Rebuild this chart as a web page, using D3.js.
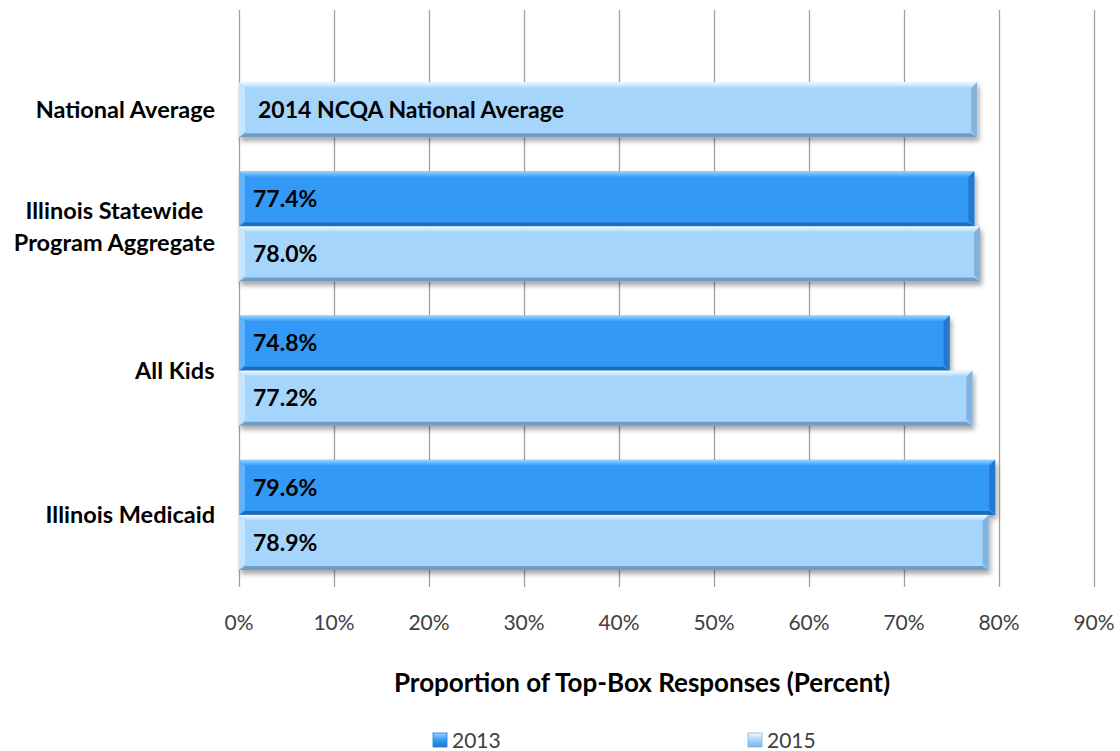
<!DOCTYPE html>
<html>
<head>
<meta charset="utf-8">
<script src="https://cdn.jsdelivr.net/npm/d3@7"></script>
<style>
  html, body { margin: 0; padding: 0; background: #fff; }
  svg { display: block; font-family: Lato, "Open Sans", sans-serif; }
</style>
</head>
<body>
<svg id="chart" width="1120" height="751"></svg>
<script>
// Top-box response proportions by program, 2013 vs 2015
const categories = [
  "National Average",
  "Illinois Statewide Program Aggregate",
  "All Kids",
  "Illinois Medicaid"
];
const categoryLines = [
  ["National Average"],
  ["Illinois Statewide", "Program Aggregate"],
  ["All Kids"],
  ["Illinois Medicaid"]
];
const seriesNames = ["2013", "2015"];
const values2013 = [null, 77.4, 74.8, 79.6];
const values2015 = [77.7, 78.0, 77.2, 78.9];
const barLabels2015 = ["2014 NCQA National Average", "78.0%", "77.2%", "78.9%"];
const xTicks = [0, 10, 20, 30, 40, 50, 60, 70, 80, 90];

const svg = d3.select("#chart");
const plotLeft = 239, plotRight = 1094, plotTop = 10, plotBottom = 587;

const x = d3.scaleLinear().domain([0, 90]).range([plotLeft, plotRight]);
const y0 = d3.scaleBand().domain(categories).range([plotTop, plotBottom]);
const y1 = d3.scaleBand().domain(seriesNames).range([0, y0.bandwidth()])
  .paddingInner(0).paddingOuter(0.311);

const palette = {
  "2013": { base: "#3399f7", light: "#9ad2ff", lighter: "#64b4fb", dark: "#2479cf", darker: "#1f6bb8" },
  "2015": { base: "#a6d5fb", light: "#f4fcff", lighter: "#c4e5fd", dark: "#82b3dc", darker: "#6e9dc6" }
};

const defs = svg.append("defs");
const shadow = defs.append("filter").attr("id", "shadow")
  .attr("x", "-5%").attr("y", "-20%").attr("width", "110%").attr("height", "150%");
shadow.append("feDropShadow").attr("dx", 2).attr("dy", 4).attr("stdDeviation", 2.5)
  .attr("flood-color", "#000").attr("flood-opacity", 0.35);

seriesNames.forEach(s => {
  const g = defs.append("linearGradient").attr("id", "top" + s)
    .attr("x1", 0).attr("y1", 0).attr("x2", 0).attr("y2", 1);
  g.append("stop").attr("offset", 0).attr("stop-color", palette[s].light);
  g.append("stop").attr("offset", 1).attr("stop-color", palette[s].base);
  const lg = defs.append("linearGradient").attr("id", "leg" + s)
    .attr("x1", 0).attr("y1", 0).attr("x2", 0).attr("y2", 1);
  lg.append("stop").attr("offset", 0).attr("stop-color", palette[s].light);
  lg.append("stop").attr("offset", 0.5).attr("stop-color", palette[s].base);
  lg.append("stop").attr("offset", 1).attr("stop-color", palette[s].dark);
});

// Vertical gridlines
svg.append("g").selectAll("line").data(xTicks).join("line")
  .attr("x1", d => Math.round(x(d)) + 0.5).attr("x2", d => Math.round(x(d)) + 0.5)
  .attr("y1", plotTop).attr("y2", plotBottom)
  .attr("stroke", "#a0a0a0").attr("stroke-width", 1.3);

// Bars
const bars = [];
categories.forEach((c, i) => {
  if (values2013[i] != null) bars.push({ cat: c, s: "2013", v: values2013[i], label: values2013[i].toFixed(1) + "%" });
  if (values2015[i] != null) bars.push({ cat: c, s: "2015", v: values2015[i], label: barLabels2015[i] });
});

const bev = 6;
const barG = svg.append("g");
const poly = pts => pts.map(q => q.join(",")).join(" ");
bars.forEach(d => {
  const x0 = x(0), x1 = x(d.v);
  const ya = y0(d.cat) + y1(d.s), yb = ya + y1.bandwidth();
  const p = palette[d.s];
  const g = barG.append("g");
  g.append("rect").attr("x", x0).attr("y", ya).attr("width", x1 - x0).attr("height", yb - ya)
    .attr("fill", p.base).attr("filter", "url(#shadow)");
  g.append("polygon").attr("points", poly([[x0, ya], [x1, ya], [x1 - bev, ya + bev], [x0 + bev, ya + bev]]))
    .attr("fill", `url(#top${d.s})`);
  g.append("polygon").attr("points", poly([[x0, ya], [x0 + bev, ya + bev], [x0 + bev, yb - bev], [x0, yb]]))
    .attr("fill", p.lighter);
  g.append("polygon").attr("points", poly([[x1, ya], [x1, yb], [x1 - bev, yb - bev], [x1 - bev, ya + bev]]))
    .attr("fill", p.dark);
  g.append("polygon").attr("points", poly([[x0, yb], [x1, yb], [x1 - bev, yb - 4], [x0 + bev, yb - 4]]))
    .attr("fill", p.darker);
});

// Bar value labels
svg.append("g").selectAll("text").data(bars).join("text")
  .attr("x", d => d.cat === "National Average" ? 258 : 253)
  .attr("y", d => y0(d.cat) + y1(d.s) + y1.bandwidth() / 2)
  .attr("dy", "0.36em")
  .attr("font-size", 23).attr("font-weight", 700).attr("fill", "#000")
  .text(d => d.label);

// Category labels
const catG = svg.append("g");
categories.forEach((c, i) => {
  const lines = categoryLines[i];
  const onlyOne = values2013[i] == null;
  const cy = onlyOne ? y0(c) + y1("2015") + y1.bandwidth() / 2 : y0(c) + y0.bandwidth() / 2;
  const t = catG.append("text").attr("font-size", 23.5).attr("font-weight", 700).attr("fill", "#000")
    .attr("text-anchor", "middle");
  lines.forEach((ln, k) => {
    t.append("tspan").attr("x", 0).attr("y", cy + (k - (lines.length - 1) / 2) * 32)
      .attr("dy", "0.36em").text(ln);
  });
  const w = t.node().getBBox().width;
  t.attr("transform", `translate(${215 - w / 2},0)`);
});

// X tick labels
svg.append("g").selectAll("text").data(xTicks).join("text")
  .attr("x", d => x(d)).attr("y", 622).attr("dy", "0.36em")
  .attr("text-anchor", "middle").attr("font-size", 21).attr("fill", "#404040")
  .text(d => d + "%");

// Axis title
svg.append("text").attr("x", 642).attr("y", 683).attr("dy", "0.36em")
  .attr("text-anchor", "middle").attr("font-size", 26).attr("font-weight", 700).attr("fill", "#000")
  .text("Proportion of Top-Box Responses (Percent)");

// Legend
const legendX = [433, 748];
const lg = svg.append("g").selectAll("g").data(seriesNames).join("g")
  .attr("transform", (d, i) => `translate(${legendX[i]},733)`);
lg.append("rect").attr("width", 14).attr("height", 14).attr("fill", d => `url(#leg${d})`)
  .attr("stroke", d => palette[d].dark).attr("stroke-width", 0.8);
lg.append("text").attr("x", 19).attr("y", 7).attr("dy", "0.36em")
  .attr("font-size", 21).attr("fill", "#404040").text(d => d);
</script>
</body>
</html>
